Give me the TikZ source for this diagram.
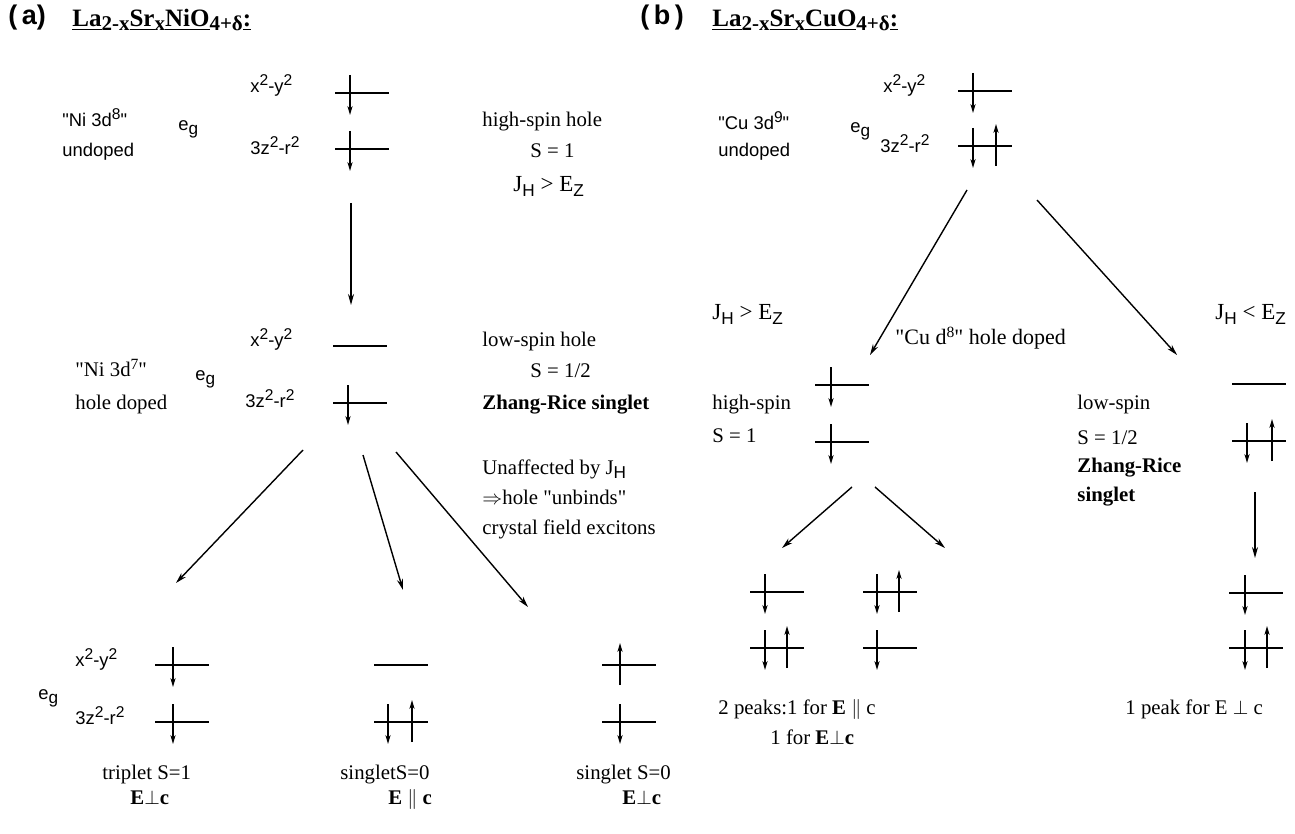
\documentclass[tikz,border=0pt]{standalone}
\usepackage{fontspec}
\setmainfont{Liberation Serif}
\setsansfont{Liberation Sans}
\usepackage{tikz}
\usetikzlibrary{arrows.meta}
\newcommand{\txtsz}{\fontsize{10.4}{12}\selectfont}
\newcommand{\orbsz}{\sffamily\fontsize{9.2}{11}\selectfont}
\newcommand{\subs}[1]{\raisebox{-0.3ex}{\fontsize{10.5}{10.5}\selectfont #1}}
\newcommand{\hi}[1]{\raisebox{0.75ex}{\fontsize{7.8}{8}\selectfont #1}}
\newcommand{\lo}[1]{\raisebox{-0.45ex}{\sffamily\fontsize{8.6}{9}\selectfont #1}}
\newcommand{\q}{\textquotedbl}
\newcommand{\xy}{x\hi{2}-y\hi{2}}
\newcommand{\zr}{3z\hi{2}-r\hi{2}}
\newcommand{\eg}{e\lo{g}}
\newcommand{\lev}[2]{\draw[lvl](#1,#2)--++(54,0);}
\newcommand{\dn}[2]{\draw[spin](#1,#2-18)--(#1,#2+22);}
\newcommand{\up}[2]{\draw[spin](#1,#2+20)--(#1,#2-22);}
\tikzset{fig/.style={line join=round,>=Stealth,x=0.5pt,y=-0.5pt},
  lvl/.style={line width=0.75pt},
  spin/.style={line width=0.9pt,-{Stealth[length=4.5pt,width=2.6pt]}},
  lead/.style={line width=0.7pt,-{Stealth[length=5.5pt,width=3pt]}},
  txt/.style={anchor=mid west,inner sep=0pt,font=\txtsz},
  orb/.style={anchor=mid west,inner sep=0pt,font=\orbsz},
  hd/.style={anchor=mid west,inner sep=0pt,font=\sffamily\bfseries\fontsize{13.5}{15}\selectfont},
  ttl/.style={anchor=mid west,inner sep=0pt,font=\bfseries\fontsize{12.5}{14}\selectfont}}
\begin{document}
\begin{tikzpicture}[fig]
  \useasboundingbox(0,0)rectangle(1295,834);
  % (a) nickelate
  \node[hd](hdA)at(8,20){(\,a)};
  \node[ttl](ttlA)at(72,22){\underline{La}\subs{2-x}\underline{Sr}\subs{x}\underline{NiO}\subs{4+δ}\underline{:}};
  \node[orb](aXY)at(250,88){\xy};
  \node[orb](aZR)at(250,150){\zr};
  \node[orb](aN8)at(62,122){\q Ni 3d\hi{8}\q};
  \node[orb](aEg)at(178,126){\eg};
  \node[orb](aUnd)at(62,152){undoped};
  \lev{335}{93}\dn{350}{93}
  \lev{335}{149}\dn{350}{149}
  \node[txt](aHS)at(482,122){high-spin hole};
  \node[txt](aS1)at(530,153){S = 1};
  \node[txt,font=\fontsize{11.5}{13}\selectfont](aJH)at(513,187){J\lo{H} > E\lo{Z}};
  \coordinate(aTop)at(351,203);\coordinate(aMid)at(351,305);
  \draw[lead](aTop)--(aMid);
  \node[orb](aXY2)at(250,342){\xy};
  \lev{333}{346}
  \node[txt](aLS)at(482,342){low-spin hole};
  \node[txt](aN7)at(75,372){\q Ni 3d\hi{7}\q};
  \node[orb](aEg2)at(195,376){\eg};
  \node[txt](aHD)at(75,405){hole doped};
  \node[orb](aZR2)at(245,403){\zr};
  \lev{333}{403}\dn{348}{403}
  \node[txt](aSh)at(530,373){S = 1/2};
  \node[txt,font=\txtsz\bfseries](aZRS)at(482,405){Zhang-Rice singlet};
  \node[txt](aUn1)at(482,470){Unaffected by J\lo{H}};
  \node[txt](aUn2)at(482,500){$\Rightarrow$hole \q unbinds\q};
  \node[txt](aUn3)at(482,530){crystal field excitons};
  \coordinate(aL0)at(303,450);\coordinate(aL1)at(176,583);
  \coordinate(aC0)at(363,455);\coordinate(aC1)at(403,590);
  \coordinate(aR0)at(396,452);\coordinate(aR1)at(528,607);
  \draw[lead](aL0)--(aL1);\draw[lead](aC0)--(aC1);\draw[lead](aR0)--(aR1);
  \node[orb](aXY3)at(75,662){\xy};
  \node[orb](aEg3)at(38,695){\eg};
  \node[orb](aZR3)at(75,720){\zr};
  \lev{155}{665}\dn{173}{665}
  \lev{155}{722}\dn{173}{722}
  \lev{374}{665}
  \lev{374}{722}\dn{388}{722}\up{412}{722}
  \lev{602}{665}\up{620}{665}
  \lev{602}{722}\dn{620}{722}
  \node[txt](aT1)at(102,775){triplet S=1};
  \node[txt](aT2)at(130,800){\textbf{E}$\perp$\textbf{c}};
  \node[txt](aM1)at(340,775){singletS=0};
  \node[txt](aM2)at(388,800){\textbf{E} $\parallel$ \textbf{c}};
  \node[txt](aR1t)at(576,775){singlet S=0};
  \node[txt](aR2t)at(622,800){\textbf{E}$\perp$\textbf{c}};
  % (b) cuprate
  \node[hd](hdB)at(640,20){(\,b\,)};
  \node[ttl](ttlB)at(712,22){\underline{La}\subs{2-x}\underline{Sr}\subs{x}\underline{CuO}\subs{4+δ}\underline{:}};
  \node[orb](bXY)at(883,88){\xy};
  \lev{958}{91}\dn{973}{91}
  \node[orb](bC9)at(718,125){\q Cu 3d\hi{9}\q};
  \node[orb](bEg)at(850,128){\eg};
  \node[orb](bUnd)at(718,152){undoped};
  \node[orb](bZR)at(880,148){\zr};
  \lev{958}{146}\dn{973}{146}\up{996}{146}
  \coordinate(bL0)at(967,190);\coordinate(bL1)at(870,355);
  \coordinate(bR0)at(1037,200);\coordinate(bR1)at(1177,355);
  \draw[lead](bL0)--(bL1);\draw[lead](bR0)--(bR1);
  \node[txt,font=\fontsize{11.5}{13}\selectfont](bJg)at(712,315){J\lo{H} > E\lo{Z}};
  \node[txt,font=\fontsize{11.5}{13}\selectfont](bJl)at(1215,315){J\lo{H} < E\lo{Z}};
  \node[txt,font=\fontsize{11}{13}\selectfont](bC8)at(895,340){\q Cu d\hi{8}\q\ hole doped};
  \lev{815}{385}\dn{831}{385}
  \lev{815}{442}\dn{831}{442}
  \node[txt](bHS)at(712,405){high-spin};
  \node[txt](bS1)at(712,438){S = 1};
  \lev{1232}{384}
  \lev{1232}{441}\dn{1247}{441}\up{1272}{441}
  \node[txt](bLS)at(1077,405){low-spin};
  \node[txt](bSh)at(1077,440){S = 1/2};
  \node[txt,font=\txtsz\bfseries](bZR1)at(1077,468){Zhang-Rice};
  \node[txt,font=\txtsz\bfseries](bZR2)at(1077,497){singlet};
  \coordinate(bV0)at(1255,492);\coordinate(bV1)at(1255,558);
  \draw[lead](bV0)--(bV1);
  \coordinate(bHL0)at(852,487);\coordinate(bHL1)at(782,548);
  \coordinate(bHR0)at(875,487);\coordinate(bHR1)at(945,548);
  \draw[lead](bHL0)--(bHL1);\draw[lead](bHR0)--(bHR1);
  \lev{750}{592}\dn{765}{592}
  \lev{750}{648}\dn{765}{648}\up{787}{648}
  \lev{863}{592}\dn{877}{592}\up{899}{592}
  \lev{863}{648}\dn{877}{648}
  \lev{1229}{593}\dn{1245}{593}
  \lev{1229}{648}\dn{1245}{648}\up{1267}{648}
  \node[txt](bP1)at(718,710){2 peaks:1 for \textbf{E} $\parallel$ c};
  \node[txt](bP2)at(770,740){1 for \textbf{E}$\perp$\textbf{c}};
  \node[txt](bP3)at(1125,710){1 peak for E $\perp$ c};
\end{tikzpicture}
\end{document}
